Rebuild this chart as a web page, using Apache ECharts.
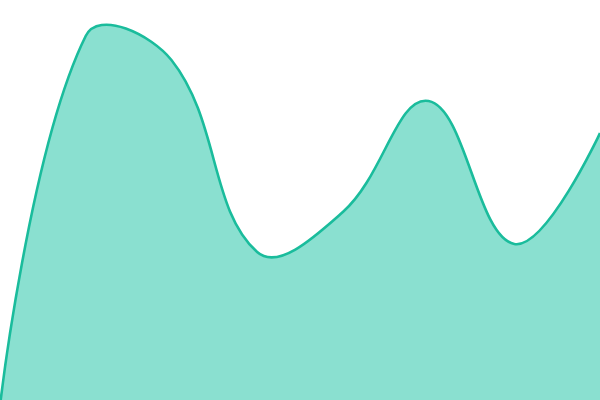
<!DOCTYPE html>
<html>
<head>
<meta charset="utf-8">
<script src="https://cdn.jsdelivr.net/npm/echarts@6/dist/echarts.min.js"></script>
<style>
  html, body { margin: 0; padding: 0; background: #fff; }
  #chart { width: 600px; height: 400px; }
</style>
</head>
<body>
<div id="chart"></div>
<script>
var categories = ['A', 'B', 'C', 'D', 'E', 'F', 'G', 'H'];
var values = [-6, 364, 340, 148, 188, 299, 156, 267];

var lineColor = '#1abc9c';
var fillColor = '#8ae0d0';
var smooth = 0.4;

// old style (catmull-like) bezier smoothing, lets the curve overshoot its points
function smoothPath(pts) {
  var cps = [];
  for (var i = 0; i < pts.length; i++) {
    if (i === 0 || i === pts.length - 1) {
      cps.push([pts[i][0], pts[i][1]], [pts[i][0], pts[i][1]]);
      continue;
    }
    var p = pts[i], prev = pts[i - 1], next = pts[i + 1];
    var vx = (next[0] - prev[0]) * smooth;
    var vy = (next[1] - prev[1]) * smooth;
    var d0 = Math.hypot(p[0] - prev[0], p[1] - prev[1]);
    var d1 = Math.hypot(p[0] - next[0], p[1] - next[1]);
    var sum = d0 + d1;
    d0 /= sum; d1 /= sum;
    cps.push([p[0] - vx * d0, p[1] - vy * d0], [p[0] + vx * d1, p[1] + vy * d1]);
  }
  var d = 'M' + pts[0][0] + ' ' + pts[0][1];
  for (var j = 1; j < pts.length; j++) {
    var c1 = cps[(j - 1) * 2 + 1], c2 = cps[j * 2];
    d += ' C' + c1[0] + ' ' + c1[1] + ' ' + c2[0] + ' ' + c2[1] + ' ' + pts[j][0] + ' ' + pts[j][1];
  }
  return d;
}

function renderArea(params, api) {
  if (params.dataIndex !== 0) return;
  var pts = values.map(function (v, i) { return api.coord([i, v]); });
  var line = smoothPath(pts);
  var base0 = api.coord([0, -20]);
  var base1 = api.coord([values.length - 1, -20]);
  var area = line + ' L' + base1[0] + ' ' + base1[1] + ' L' + base0[0] + ' ' + base0[1] + ' Z';
  return {
    type: 'group',
    children: [{
      type: 'path',
      shape: { pathData: area },
      style: { fill: fillColor, stroke: null }
    }, {
      type: 'path',
      shape: { pathData: line },
      style: { fill: null, stroke: lineColor, lineWidth: 2.6 }
    }]
  };
}

var option = {
  backgroundColor: '#fff',
  animation: false,
  grid: { left: 0, right: 0, top: 0, bottom: 0 },
  xAxis: {
    type: 'category',
    boundaryGap: false,
    data: categories,
    show: false
  },
  yAxis: {
    type: 'value',
    min: 0,
    max: 400,
    show: false
  },
  series: [{
    type: 'custom',
    renderItem: renderArea,
    clip: true,
    data: values.map(function (v, i) { return [i, v]; })
  }]
};

var myChart = echarts.init(document.getElementById('chart'));
myChart.setOption(option);
</script>
</body>
</html>
